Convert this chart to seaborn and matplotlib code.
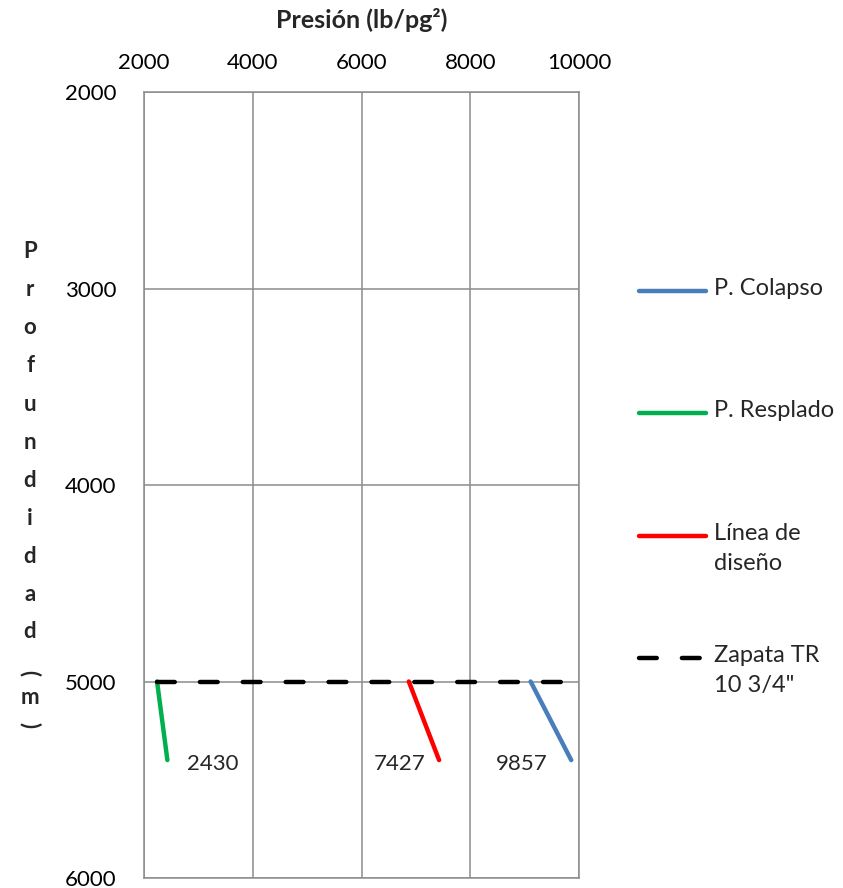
import matplotlib
matplotlib.use("Agg")
import matplotlib.pyplot as plt
from matplotlib.lines import Line2D
import pandas as pd
import seaborn as sns

# Depth (m) of the two points of each segment
depth = [5000, 5400]

# Pressure (lb/pg2) at each depth
p_colapso = [9110, 9857]
p_respaldo = [2240, 2430]
linea_diseno = [6870, 7427]

# Casing shoe marker
zapata_x = [2240, 9857]
zapata_y = [5000, 5000]

series_names = ["P. Colapso", "P. Resplado", "Línea de\ndiseño", "Zapata TR\n10 3/4\""]
series_colors = ["#4a7ebb", "#00b050", "#ff0000", "#000000"]

x_ticks = [2000, 4000, 6000, 8000, 10000]
y_ticks = [2000, 3000, 4000, 5000, 6000]

sns.set_theme(style="white")
plt.rcParams['font.family'] = ['Lato', 'DejaVu Sans']

W, H = 843, 888
fig = plt.figure(figsize=(W / 100, H / 100), dpi=100)
ax = fig.add_axes([144 / W, 1 - 878 / H, (579 - 144) / W, (878 - 92) / H])

df = pd.concat([
    pd.DataFrame({"x": p_colapso, "y": depth, "serie": series_names[0]}),
    pd.DataFrame({"x": p_respaldo, "y": depth, "serie": series_names[1]}),
    pd.DataFrame({"x": linea_diseno, "y": depth, "serie": series_names[2]}),
    pd.DataFrame({"x": zapata_x, "y": zapata_y, "serie": series_names[3]}),
], ignore_index=True)

lw = 3.2
dash = (4.0, 5.65)
sns.lineplot(data=df, x="x", y="y", hue="serie", style="serie",
             palette=dict(zip(series_names, series_colors)),
             dashes={series_names[0]: "", series_names[1]: "",
                     series_names[2]: "", series_names[3]: dash},
             sort=False, estimator=None, legend=False, linewidth=lw,
             solid_capstyle="round", dash_capstyle="round", ax=ax)

# Put the dashed marker on top of the solid segments
for line in ax.get_lines():
    if line.get_linestyle() not in ("-", "solid"):
        line.set_zorder(3)

ax.set_xlim(x_ticks[0], x_ticks[-1])
ax.set_ylim(y_ticks[-1], y_ticks[0])
ax.set_xticks(x_ticks)
ax.set_yticks(y_ticks)
ax.xaxis.tick_top()
ax.xaxis.set_label_position("top")
ax.tick_params(axis="both", length=0, labelsize=16, colors="black")
ax.tick_params(axis="x", pad=14)
ax.tick_params(axis="y", pad=20)
ax.set_xlabel("Presión (lb/pg²)", fontsize=18, fontweight="bold", labelpad=18)
ax.set_ylabel("")
ax.grid(True, color="#8c8c8c", linewidth=1.1)
for sp in ax.spines.values():
    sp.set_color("#8c8c8c")
    sp.set_linewidth(1.1)

# Value labels at the deepest point of each segment
label_specs = [
    (p_respaldo, 14, "left"),
    (linea_diseno, -10, "right"),
    (p_colapso, -17, "right"),
]
for xs, dx, ha in label_specs:
    ax.annotate(f"{xs[-1]}", xy=(xs[-1], depth[-1]), xytext=(dx, -3),
                textcoords="offset points", ha=ha, va="center", fontsize=16)

# Stacked vertical axis title
for i, ch in enumerate("Profundidad"):
    fig.text(30 / W, 1 - (252 + i * 38) / H, ch, ha="center", va="center",
             fontsize=16, fontweight="bold")
for ch, yy, rot in [("(", 673, 270), ("m", 698, 0), (")", 725, 270)]:
    fig.text(30 / W, 1 - yy / H, ch, ha="center", va="center",
             rotation=rot, fontsize=16, fontweight="bold")

# Legend on the right
leg_y = [291, 413, 536, 658]
for name, color, yy in zip(series_names, series_colors, leg_y):
    yf = 1 - yy / H
    ls = (0, dash) if name == series_names[3] else "-"
    fig.add_artist(Line2D([639 / W, 706 / W], [yf, yf], color=color,
                          linewidth=lw, linestyle=ls,
                          solid_capstyle="round", dash_capstyle="round"))
    fig.text(714 / W, 1 - (yy - 13) / H, name, ha="left", va="top",
             fontsize=17, linespacing=1.55)

fig.savefig("out.png", dpi=100)
